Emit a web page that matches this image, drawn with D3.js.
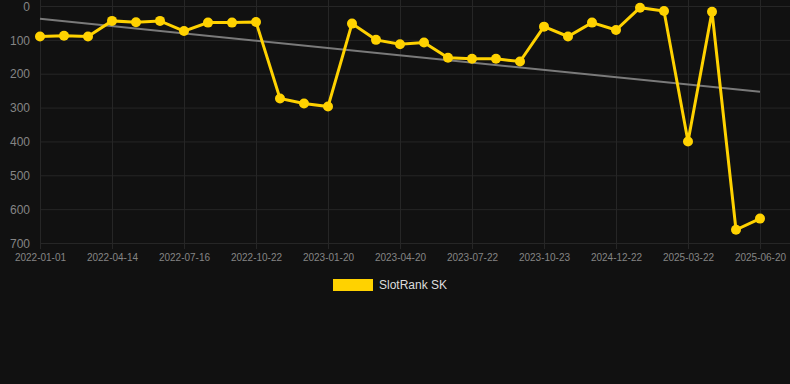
<!DOCTYPE html>
<html>
<head>
<meta charset="utf-8">
<script src="https://cdn.jsdelivr.net/npm/d3@7"></script>
<style>
  html, body { margin: 0; padding: 0; background: #111111; }
  svg { display: block; font-family: "Liberation Sans", Arial, sans-serif; }
</style>
</head>
<body>
<div id="chart"></div>
<script>
// dates shown on the axis every 3rd point; others are in-between snapshots
var dates = [
    "2022-01-01", "2022-02-04", "2022-03-10", "2022-04-14", "2022-05-18", "2022-06-11",
    "2022-07-16", "2022-08-19", "2022-09-20", "2022-10-22", "2022-11-20", "2022-12-20",
    "2023-01-20", "2023-02-19", "2023-03-21", "2023-04-20", "2023-05-21", "2023-06-21",
    "2023-07-22", "2023-08-22", "2023-09-22", "2023-10-23", "2024-06-10", "2024-10-01",
    "2024-12-22", "2025-01-21", "2025-02-20", "2025-03-22", "2025-04-21", "2025-05-21",
    "2025-06-20"
];
var ranks = [
    90, 88, 90, 44, 48, 44, 74, 49, 49, 47, 273, 288, 297, 52, 100, 113,
    108, 153, 156, 156, 164, 61, 90, 49, 71, 5, 15, 400, 17, 661, 628
];
var trendEnds = [38, 253];
var yTicks = [0, 100, 200, 300, 400, 500, 600, 700];
var seriesName = "SlotRank SK";

(function () {
    var W = 790, H = 384;
    var gold = "#FFD200";
    var gridColor = "#262626";
    var tickColor = "#858585";

    var svg = d3.select("#chart").append("svg")
        .attr("width", W)
        .attr("height", H);

    var x = d3.scalePoint().domain(dates).range([40, 760]);
    var y = d3.scaleLinear().domain([0, 700]).range([6, 243]);

    var shown = dates.filter(function (d, i) { return i % 3 === 0; });

    // horizontal grid + y labels
    var yAxis = d3.axisLeft(y).tickValues(yTicks).tickSize(6).tickPadding(4);
    var gy = svg.append("g").attr("transform", "translate(40,0)").call(yAxis);
    gy.select(".domain").remove();
    gy.selectAll(".tick line").attr("stroke", gridColor).attr("x2", W - 40);
    gy.selectAll(".tick text")
        .attr("fill", tickColor)
        .attr("font-size", 12)
        .attr("x", -10)
        .attr("dy", "0.35em");

    // vertical grid + x labels
    var xAxis = d3.axisBottom(x).tickValues(shown).tickSize(6).tickPadding(6);
    var gx = svg.append("g").attr("transform", "translate(0,243)").call(xAxis);
    gx.select(".domain").remove();
    gx.selectAll(".tick line").attr("stroke", gridColor).attr("y1", -243);
    gx.selectAll(".tick text")
        .attr("fill", tickColor)
        .attr("font-size", 10)
        .attr("y", 11);

    // trend line
    svg.append("line")
        .attr("x1", x(dates[0]))
        .attr("y1", y(trendEnds[0]))
        .attr("x2", x(dates[dates.length - 1]))
        .attr("y2", y(trendEnds[1]))
        .attr("stroke", "#7a7a7a")
        .attr("stroke-width", 2);

    var line = d3.line()
        .x(function (d, i) { return x(dates[i]); })
        .y(function (d) { return y(d); });

    svg.append("path")
        .datum(ranks)
        .attr("d", line)
        .attr("fill", "none")
        .attr("stroke", gold)
        .attr("stroke-width", 3)
        .attr("stroke-linejoin", "miter");

    svg.selectAll("circle.pt")
        .data(ranks)
        .enter()
        .append("circle")
        .attr("class", "pt")
        .attr("cx", function (d, i) { return x(dates[i]); })
        .attr("cy", function (d) { return y(d); })
        .attr("r", 5)
        .attr("fill", gold);

    // legend
    var lg = svg.append("g").attr("transform", "translate(333,279)");
    lg.append("rect")
        .attr("width", 40)
        .attr("height", 12)
        .attr("fill", gold);
    lg.append("text")
        .attr("x", 46)
        .attr("y", 6)
        .attr("dy", "0.35em")
        .attr("fill", "#dddddd")
        .attr("font-size", 12)
        .text(seriesName);
})();
</script>
</body>
</html>
